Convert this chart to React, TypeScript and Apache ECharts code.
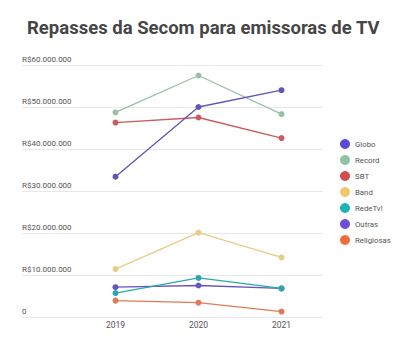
import React, { useEffect, useRef } from "react";
import * as echarts from "echarts";

const years = ["2019", "2020", "2021"];
const seriesNames = ["Globo", "Record", "SBT", "Band", "RedeTv!", "Outras", "Religiosas"];
const globo = [33400000, 50000000, 54000000];
const record = [48700000, 57500000, 48300000];
const sbt = [46300000, 47500000, 42600000];
const band = [11400000, 20100000, 14200000];
const redeTv = [5700000, 9300000, 6800000];
const outras = [7100000, 7500000, 6800000];
const religiosas = [3900000, 3400000, 1300000];
const legendColors = ["#5a4bd6", "#8fc3a4", "#d44c4c", "#f0c96a", "#1cb3b9", "#6a4fd8", "#f26b3a"];
const lineColors = ["#6652b8", "#97c2a6", "#c95b5b", "#e6cd85", "#2aa9ad", "#6a55c0", "#e07a55"];

function fmt(v: number): string {
  if (v === 0) return "0";
  return "R$" + String(v).replace(/\B(?=(\d{3})+(?!\d))/g, ".");
}

export default function App() {
  const ref = useRef<HTMLDivElement>(null);
  useEffect(() => {
    if (!ref.current) return;
    const chart = echarts.init(ref.current, null, { renderer: "svg" });
    const values = [globo, record, sbt, band, redeTv, outras, religiosas];
    chart.setOption({
      animation: false,
      backgroundColor: "#ffffff",
      textStyle: { fontFamily: "Roboto" },
      title: {
        text: "Repasses da Secom para emissoras de TV",
        left: 22,
        top: 13,
        textStyle: { fontSize: 18.5, fontWeight: "bold", color: "#464646", fontFamily: "Roboto" },
      },
      legend: {
        orient: "vertical",
        left: 335,
        top: 134,
        icon: "circle",
        itemWidth: 10,
        itemHeight: 10,
        itemGap: 6,
        itemTextGap: 6,
        textStyle: { fontSize: 7.8, color: "#555", fontFamily: "Roboto" },
        data: seriesNames.map((n, i) => ({ name: n, itemStyle: { color: legendColors[i] } })),
      },
      grid: [
        { left: 74, right: 90, top: 65, bottom: 34 },
        { left: 22, right: 90, top: 65, bottom: 34 },
      ],
      xAxis: [
        {
          type: "category",
          gridIndex: 0,
          data: years,
          boundaryGap: true,
          axisLine: { show: false },
          axisTick: { show: false },
          axisLabel: { fontSize: 8.5, color: "#555", margin: 3, fontFamily: "Roboto" },
        },
        { type: "value", gridIndex: 1, show: false, min: 0, max: 1 },
      ],
      yAxis: [
        {
          type: "value",
          gridIndex: 0,
          min: 0,
          max: 60000000,
          interval: 10000000,
          axisLabel: { show: false },
          splitLine: { show: false },
          axisLine: { show: false },
          axisTick: { show: false },
        },
        {
          type: "value",
          gridIndex: 1,
          min: 0,
          max: 60000000,
          interval: 10000000,
          axisLine: { show: false },
          axisTick: { show: false },
          splitLine: { show: true, lineStyle: { color: "#e8e8e8", width: 1 } },
          axisLabel: {
            inside: true,
            margin: 0,
            verticalAlign: "bottom",
            padding: [0, 0, 2, 0],
            fontSize: 8,
            color: "#555",
            fontFamily: "Roboto",
            formatter: (v: number) => fmt(v),
          },
        },
      ],
      series: seriesNames.map((n, i) => ({
        name: n,
        type: "line",
        xAxisIndex: 0,
        yAxisIndex: 0,
        data: values[i],
        symbol: "circle",
        symbolSize: 6,
        color: legendColors[i],
        lineStyle: { color: lineColors[i], width: 1.3 },
        itemStyle: { color: lineColors[i] },
        z: 10 - i,
      })),
    });
    return () => chart.dispose();
  }, []);
  return (
    <div
      ref={ref}
      style={{ position: "fixed", left: 0, top: 0, width: 413, height: 351, background: "#fff" }}
    />
  );
}
